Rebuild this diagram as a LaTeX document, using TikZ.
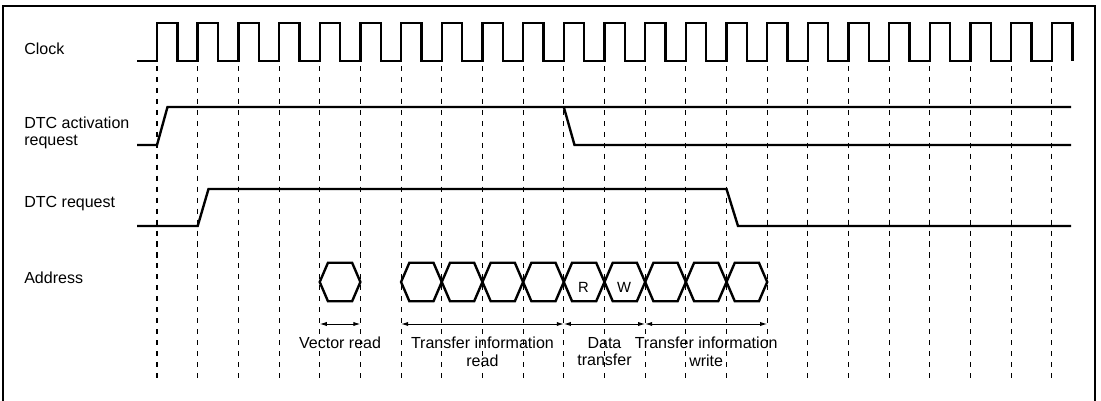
\documentclass[tikz,border=0pt]{standalone}
\usepackage{fontspec}
\setmainfont{Liberation Sans}
\usetikzlibrary{arrows.meta,positioning,calc}

\begin{document}
\begin{tikzpicture}[x=0.025cm, y=-0.025cm, every node/.style={font=\fontsize{11.4}{12.4}\selectfont}]
\tikzset{signal/.style={line width=1.7pt, line join=miter}}
\tikzset{guide/.style={line width=0.75pt, dash pattern=on 3.6pt off 4.2pt}}
\tikzset{span/.style={{Latex[length=5pt,width=3pt]}-{Latex[length=5pt,width=3pt]}, line width=0.7pt}}
\tikzset{rowlabel/.style={anchor=north west, align=left, inner sep=0pt}}
\tikzset{spanlabel/.style={below=8.9pt, align=center, inner sep=0pt}}
\tikzset{cellmark/.style={font=\fontsize{10.5}{12}\selectfont, inner sep=0pt}}
\useasboundingbox (0,0) rectangle (1101,401);
% frame, open at the bottom
\draw[line width=1.6pt] (3,401) -- (3,6) -- (1095,6) -- (1095,401);
% one guide per rising clock edge
\foreach \i in {0,...,22} {
  \coordinate (t\i) at ({157+40.68*\i},324);
  \draw[guide] ({157+40.68*\i},66) -- ({157+40.68*\i},380);
}
% row names
\node[rowlabel] (clk) at (24,43) {Clock};
\node[rowlabel] (act) at (24,116.5) {DTC activation\\request};
\node[rowlabel] (req) at (24,196.5) {DTC request};
\node[rowlabel] (addr) at (24,271.5) {Address};
% clock
\draw[signal] (137,61) foreach \i in {0,...,22} {
  -- ({157+40.68*\i},61) -- ++(0,-38) -- ++(20.34,0) -- ++(0,38)};
% DTC activation request
\draw[signal] (137,145) -- (157,145) -- (167.5,107) -- (1071,107);
\draw[signal] (563.8,107) -- (574.5,145) -- (1071,145);
% DTC request
\draw[signal] (137,226) -- (197.7,226) -- (208.5,189) -- (726.5,189) -- (738,226) -- (1071,226);
% address cycles
\draw[signal] (319.7,282) -- ++(8.3,-19.3) -- (352.1,262.7) -- (360.4,282)
  -- (352.1,301.3) -- (328,301.3) -- cycle;
\foreach \i in {6,...,14} {
  \draw[signal] ({157+40.68*\i},282) -- ++(8.3,-19.3) -- ++(24.08,0) -- ++(8.3,19.3)
    -- ++(-8.3,19.3) -- ++(-24.08,0) -- cycle;
}
\node[cellmark] (rd) at (583.5,287) {R};
\node[cellmark] (wr) at (624.2,287) {W};
% phases
\draw[span] (t4) -- node[spanlabel] (vec) {Vector read} (t5);
\draw[span] (t6) -- node[spanlabel] (tir) {Transfer information\\read} (t10);
\draw[span] (t10) -- node[spanlabel] (dat) {Data\\transfer} (t12);
\draw[span] (t12) -- node[spanlabel] (tiw) {Transfer information\\write} (t15);
\end{tikzpicture}
\end{document}
